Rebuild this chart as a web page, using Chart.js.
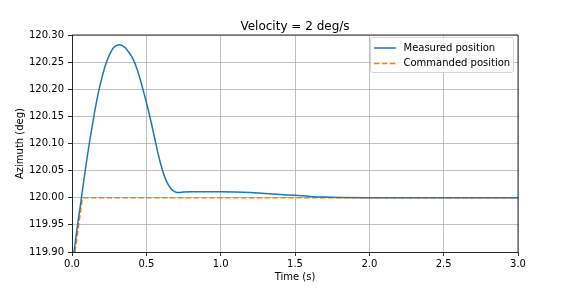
<!DOCTYPE html>
<html>
<head>
<meta charset="utf-8">
<script src="https://cdn.jsdelivr.net/npm/chart.js@4"></script>
<style>
  html, body { margin: 0; padding: 0; background: #fff; }
  #wrap { width: 576px; height: 288px; }
</style>
</head>
<body>
<div id="wrap"><canvas id="chart" width="576" height="288"></canvas></div>
<script>
const titleText = 'Velocity = 2 deg/s';
const xLabel = 'Time (s)';
const yLabel = 'Azimuth (deg)';

const measuredTime = [0.013, 0.04, 0.06, 0.08, 0.10, 0.12, 0.14, 0.16, 0.18, 0.20, 0.22, 0.24, 0.26, 0.28, 0.30, 0.32,
    0.34, 0.36, 0.38, 0.40, 0.42, 0.44, 0.46, 0.48, 0.50, 0.52, 0.54, 0.56, 0.58, 0.60, 0.62, 0.64, 0.66, 0.68, 0.70,
    0.72, 0.75, 0.8, 1.0, 1.1, 1.2, 1.3, 1.4, 1.5, 1.6, 1.7, 1.8, 2.0, 3.0];
const measuredAz = [119.900, 119.955, 119.993, 120.033, 120.071, 120.106, 120.139, 120.170, 120.197, 120.220, 120.240,
    120.256, 120.268, 120.277, 120.281, 120.282, 120.280, 120.276, 120.269, 120.261, 120.250, 120.235, 120.217,
    120.197, 120.176, 120.154, 120.130, 120.105, 120.080, 120.059, 120.041, 120.028, 120.019, 120.013, 120.010,
    120.0095, 120.0105, 120.0112, 120.011, 120.0105, 120.0095, 120.008, 120.006, 120.0045, 120.0025, 120.0012,
    120.0005, 120.0, 120.0];

const commandedTime = [0.02, 0.07, 3.0];
const commandedAz = [119.90, 120.00, 120.00];

const xTicks = [0.0, 0.5, 1.0, 1.5, 2.0, 2.5, 3.0];
const yTicks = [119.90, 119.95, 120.00, 120.05, 120.10, 120.15, 120.20, 120.25, 120.30];

const seriesNames = ['Measured position', 'Commanded position'];

const font = 'DejaVu Sans';

function toPoints(xs, ys) {
    return xs.map((x, i) => ({ x: x, y: ys[i] }));
}

// title, top/right spines and the boxed legend drawn matplotlib-style
const extras = {
    id: 'extras',
    afterDatasetsDraw(chart) {
        const ctx = chart.ctx;
        const a = chart.chartArea;
        ctx.save();
        ctx.strokeStyle = '#000';
        ctx.lineWidth = 0.8;
        ctx.beginPath();
        ctx.moveTo(a.left, a.top);
        ctx.lineTo(a.right, a.top);
        ctx.lineTo(a.right, a.bottom);
        ctx.stroke();

        ctx.fillStyle = '#000';
        ctx.font = '12px "' + font + '"';
        ctx.textAlign = 'center';
        ctx.textBaseline = 'alphabetic';
        ctx.fillText(titleText, (a.left + a.right) / 2, a.top - 5.5);

        // legend box
        const bx = a.right - 147.5, by = a.top + 2.5, bw = 143, bh = 35;
        ctx.globalAlpha = 0.8;
        ctx.fillStyle = '#fff';
        ctx.strokeStyle = '#cccccc';
        ctx.lineWidth = 1;
        ctx.beginPath();
        ctx.roundRect(bx, by, bw, bh, 2.5);
        ctx.fill();
        ctx.stroke();
        ctx.globalAlpha = 1;

        ctx.font = '10px "' + font + '"';
        ctx.textAlign = 'left';
        ctx.textBaseline = 'middle';
        chart.data.datasets.forEach((ds, i) => {
            const y = by + 10.5 + i * 15.6;
            ctx.strokeStyle = ds.borderColor;
            ctx.lineWidth = ds.borderWidth;
            ctx.setLineDash(ds.borderDash || []);
            ctx.beginPath();
            ctx.moveTo(bx + 3.5, y);
            ctx.lineTo(bx + 25.5, y);
            ctx.stroke();
            ctx.setLineDash([]);
            ctx.fillStyle = '#000';
            ctx.fillText(ds.label, bx + 33, y);
        });
        ctx.restore();
    }
};

const ctx = document.getElementById('chart').getContext('2d');
const chart = new Chart(ctx, {
    type: 'line',
    data: {
        datasets: [{
            label: seriesNames[0],
            data: toPoints(measuredTime, measuredAz),
            borderColor: '#1f77b4',
            borderWidth: 1.5,
            pointRadius: 0,
            cubicInterpolationMode: 'monotone',
            fill: false
        }, {
            label: seriesNames[1],
            data: toPoints(commandedTime, commandedAz),
            borderColor: '#ff7f0e',
            borderWidth: 1.5,
            borderDash: [5.5, 2.4],
            pointRadius: 0,
            tension: 0,
            fill: false
        }]
    },
    options: {
        responsive: false,
        animation: false,
        devicePixelRatio: 1,
        layout: { padding: { left: 0, right: 58, top: 35, bottom: 0 } },
        plugins: {
            legend: { display: false },
            title: { display: false },
            tooltip: { enabled: false }
        },
        scales: {
            x: {
                type: 'linear',
                min: 0,
                max: 3,
                afterBuildTicks: axis => { axis.ticks = xTicks.map(v => ({ value: v })); },
                afterFit: axis => { axis.height = 36; },
                ticks: {
                    color: '#000',
                    font: { family: font, size: 10 },
                    padding: 2,
                    maxRotation: 0,
                    callback: v => v.toFixed(1)
                },
                grid: { color: '#b0b0b0', lineWidth: 0.8, tickColor: '#000', tickLength: 4 },
                border: { display: true, color: '#000', width: 0.8 },
                title: {
                    display: true,
                    text: xLabel,
                    color: '#000',
                    font: { family: font, size: 10 },
                    padding: { top: 0, bottom: 5 }
                }
            },
            y: {
                type: 'linear',
                min: 119.9,
                max: 120.3,
                afterBuildTicks: axis => { axis.ticks = yTicks.map(v => ({ value: v })); },
                afterFit: axis => { axis.width = 72; },
                ticks: {
                    color: '#000',
                    font: { family: font, size: 10 },
                    padding: 4,
                    callback: v => v.toFixed(2)
                },
                grid: { color: '#b0b0b0', lineWidth: 0.8, tickColor: '#000', tickLength: 4 },
                border: { display: true, color: '#000', width: 0.8 },
                title: {
                    display: true,
                    text: yLabel,
                    color: '#000',
                    font: { family: font, size: 10 },
                    padding: { top: 14, bottom: 0 }
                }
            }
        }
    },
    plugins: [extras]
});
</script>
</body>
</html>
